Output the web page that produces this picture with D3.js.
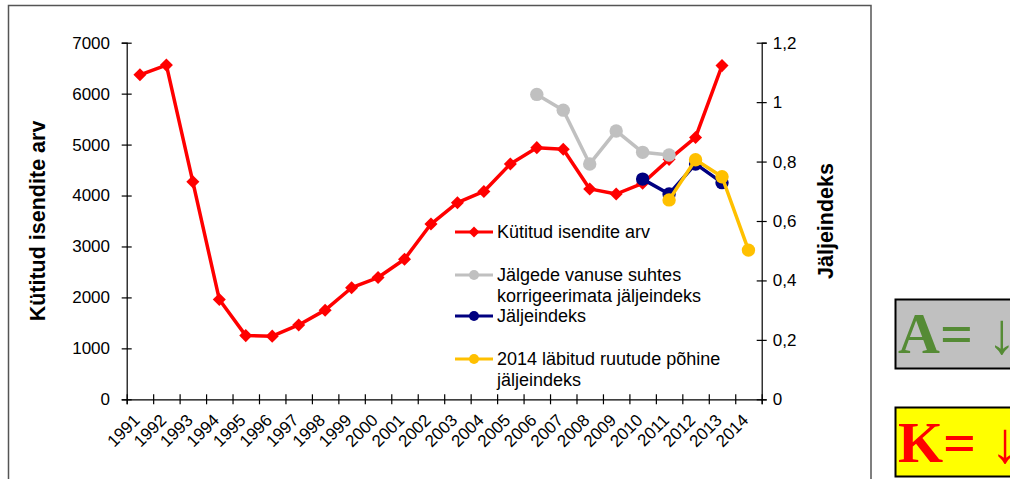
<!DOCTYPE html>
<html>
<head>
<meta charset="utf-8">
<script src="https://cdn.jsdelivr.net/npm/d3@7"></script>
<style>
  body { margin: 0; background: #fff; }
  svg { display: block; font-family: Arial, "Liberation Sans", sans-serif; }
</style>
</head>
<body>
<script>
// data
var years = d3.range(1991, 2015).map(String);
var kutitud = [6370, 6560, 4270, 1960, 1250, 1240, 1460, 1750, 2190, 2390, 2750, 3440,
               3860, 4080, 4620, 4940, 4910, 4130, 4030, 4240, 4710, 5140, 6550, null];
var korrigeerimataYears = ["2006", "2007", "2008", "2009", "2010", "2011"];
var korrigeerimata = [1.026, 0.973, 0.792, 0.903, 0.831, 0.822];
var jaljeindeksYears = ["2010", "2011", "2012", "2013"];
var jaljeindeks = [0.741, 0.691, 0.792, 0.729];
var ruutYears = ["2011", "2012", "2013", "2014"];
var ruut = [0.671, 0.806, 0.749, 0.502];
var leftTicks = [0, 1000, 2000, 3000, 4000, 5000, 6000, 7000];
var rightTicks = [0, 0.2, 0.4, 0.6, 0.8, 1.0, 1.2];

var W = 1010, H = 479;
var x0 = 126.7, x1 = 761.7, yTop = 42.7, yBot = 399.3;

var svg = d3.select("body").append("svg")
    .attr("width", W)
    .attr("height", H);

// outer chart frame
svg.append("rect")
    .attr("x", 8.5).attr("y", 5.5)
    .attr("width", 862.5).attr("height", 500)
    .attr("fill", "none")
    .attr("stroke", "#555")
    .attr("stroke-width", 1.5);

// scales
var x = d3.scaleBand().domain(years).range([x0, x1]);
var xi = d3.scaleLinear().domain([0, years.length]).range([x0, x1]);
var y = d3.scaleLinear().domain([0, 7000]).range([yBot, yTop]);
var y2 = d3.scaleLinear().domain([0, 1.2]).range([yBot, yTop]);
var cx = function(yr) { return x(yr) + x.bandwidth() / 2; };

// left axis
var gl = svg.append("g")
    .attr("transform", "translate(" + x0 + ",0)")
    .call(d3.axisLeft(y).tickValues(leftTicks).tickSizeOuter(0).tickSize(5).tickPadding(11.7)
        .tickFormat(d3.format("d")));
gl.selectAll(".tick line").attr("x1", 5);

// right axis
var gr = svg.append("g")
    .attr("transform", "translate(" + x1 + ",0)")
    .call(d3.axisRight(y2).tickValues(rightTicks).tickSizeOuter(0).tickSize(5).tickPadding(6)
        .tickFormat(function(d) { return d3.format("~g")(d).replace(".", ","); }));
gr.selectAll(".tick line").attr("x1", -5);

// x axis ticks at category edges
var gx = svg.append("g")
    .attr("transform", "translate(0," + yBot + ")")
    .call(d3.axisBottom(xi).tickValues(d3.range(years.length + 1)).tickSizeOuter(0).tickSize(5)
        .tickFormat(""));
gx.selectAll(".tick line").attr("y1", -5);

// x axis labels
var gxl = svg.append("g")
    .attr("transform", "translate(0," + yBot + ")")
    .call(d3.axisBottom(x).tickSize(0));
gxl.select(".domain").remove();
gxl.selectAll(".tick text")
    .attr("y", 0).attr("dy", 0)
    .attr("text-anchor", "end")
    .attr("transform", "translate(1,22) rotate(-45)");

svg.selectAll(".tick text").attr("font-size", 17).attr("fill", "#000")
    .attr("font-family", "Arial, 'Liberation Sans', sans-serif");
svg.selectAll(".domain, .tick line").attr("stroke", "#000").attr("stroke-width", 1.2);

// axis titles
svg.append("text")
    .attr("transform", "translate(45," + (yTop + yBot) / 2 + ") rotate(-90)")
    .attr("text-anchor", "middle")
    .attr("font-size", 21.5).attr("font-weight", "bold")
    .text("Kütitud isendite arv");

svg.append("text")
    .attr("transform", "translate(833," + (yTop + yBot) / 2 + ") rotate(-90)")
    .attr("text-anchor", "middle")
    .attr("font-size", 21.5).attr("font-weight", "bold")
    .text("Jäljeindeks");

// series
var diamond = d3.symbol(d3.symbolSquare, 85);

var redLine = d3.line()
    .defined(function(d) { return d[1] != null; })
    .x(function(d) { return cx(d[0]); })
    .y(function(d) { return y(d[1]); });

var redData = d3.zip(years, kutitud);
svg.append("path")
    .attr("d", redLine(redData))
    .attr("fill", "none").attr("stroke", "#ff0000").attr("stroke-width", 3.5)
    .attr("stroke-linejoin", "round");
svg.selectAll(".red-pt")
    .data(redData.filter(function(d) { return d[1] != null; }))
    .enter().append("path")
    .attr("class", "red-pt")
    .attr("d", diamond)
    .attr("transform", function(d) { return "translate(" + cx(d[0]) + "," + y(d[1]) + ") rotate(45)"; })
    .attr("fill", "#ff0000");

var idxLine = d3.line()
    .x(function(d) { return cx(d[0]); })
    .y(function(d) { return y2(d[1]); });

function drawIndex(yrs, vals, color) {
    var data = d3.zip(yrs, vals);
    svg.append("path")
        .attr("d", idxLine(data))
        .attr("fill", "none").attr("stroke", color).attr("stroke-width", 3.5)
        .attr("stroke-linejoin", "round");
    svg.append("g").selectAll("circle")
        .data(data)
        .enter().append("circle")
        .attr("cx", function(d) { return cx(d[0]); })
        .attr("cy", function(d) { return y2(d[1]); })
        .attr("r", 6.7)
        .attr("fill", color);
}
drawIndex(korrigeerimataYears, korrigeerimata, "#c0c0c0");
drawIndex(jaljeindeksYears, jaljeindeks, "#000080");
drawIndex(ruutYears, ruut, "#ffc000");

// legend
var legendItems = [
    {lines: ["Kütitud isendite arv"], color: "#ff0000", mark: "diamond", y: 232},
    {lines: ["Jälgede vanuse suhtes", "korrigeerimata jäljeindeks"], color: "#c0c0c0", mark: "circle", y: 275},
    {lines: ["Jäljeindeks"], color: "#000080", mark: "circle", y: 316},
    {lines: ["2014 läbitud ruutude põhine", "jäljeindeks"], color: "#ffc000", mark: "circle", y: 359}
];
var lg = svg.append("g").selectAll("g")
    .data(legendItems)
    .enter().append("g")
    .attr("transform", function(d) { return "translate(0," + d.y + ")"; });
lg.append("line")
    .attr("x1", 455).attr("x2", 493).attr("y1", 0).attr("y2", 0)
    .attr("stroke", function(d) { return d.color; }).attr("stroke-width", 3);
lg.each(function(d) {
    var g = d3.select(this);
    if (d.mark === "diamond") {
        g.append("path")
            .attr("d", d3.symbol(d3.symbolSquare, 60))
            .attr("transform", "translate(474,0) rotate(45)")
            .attr("fill", d.color);
    } else {
        g.append("circle").attr("cx", 474).attr("cy", 0).attr("r", 5).attr("fill", d.color);
    }
    var t = g.append("text")
        .attr("x", 497).attr("y", 0).attr("dy", "0.35em")
        .attr("font-size", 18);
    d.lines.forEach(function(s, i) {
        t.append("tspan").attr("x", 497).attr("dy", i === 0 ? "0.35em" : 20.5).text(s);
    });
});

// side boxes
svg.append("rect")
    .attr("x", 895.5).attr("y", 299.5).attr("width", 200).attr("height", 69)
    .attr("fill", "#c0c0c0").attr("stroke", "#000").attr("stroke-width", 2);
svg.append("text")
    .attr("x", 898).attr("y", 353)
    .attr("font-family", "'Liberation Serif', 'Times New Roman', serif")
    .attr("font-weight", "bold").attr("font-size", 58)
    .attr("fill", "#558b35")
    .text("A= ↓");

svg.append("rect")
    .attr("x", 895.5).attr("y", 407.5).attr("width", 200).attr("height", 69)
    .attr("fill", "#ffff00").attr("stroke", "#000").attr("stroke-width", 2);
svg.append("text")
    .attr("x", 898).attr("y", 461.7)
    .attr("font-family", "'Liberation Serif', 'Times New Roman', serif")
    .attr("font-weight", "bold").attr("font-size", 58)
    .attr("fill", "#ff0000")
    .text("K= ↓");
</script>
</body>
</html>
